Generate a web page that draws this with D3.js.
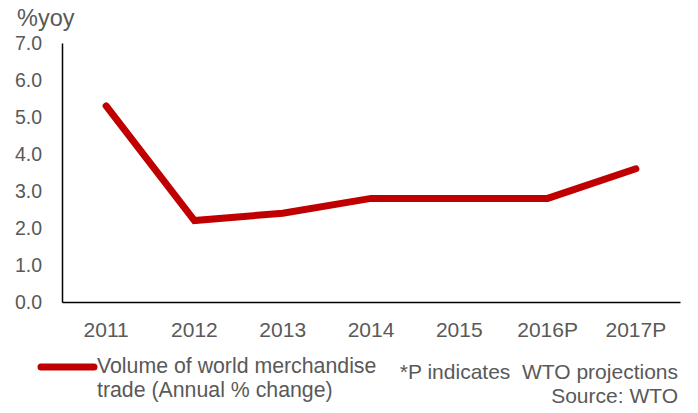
<!DOCTYPE html>
<html>
<head>
<meta charset="utf-8">
<script src="https://cdn.jsdelivr.net/npm/d3@7"></script>
<style>
  html, body { margin: 0; padding: 0; background: #fff; }
  svg text { font-family: "Liberation Sans", Arial, sans-serif; fill: #595959; }
</style>
</head>
<body>
<svg id="chart" width="698" height="413"></svg>
<script>
// World merchandise trade volume, annual % change
const categories = ["2011", "2012", "2013", "2014", "2015", "2016P", "2017P"];
const values = [5.3, 2.2, 2.4, 2.8, 2.8, 2.8, 3.6];
const yTicks = [0, 1, 2, 3, 4, 5, 6, 7];
const legendLines = ["Volume of world merchandise", "trade (Annual % change)"];
const noteLines = ["*P indicates  WTO projections", "Source: WTO"];

const svg = d3.select("#chart");
const W = 698, H = 413;
const margin = { left: 62, right: 18, top: 43, bottom: 111 };

const x = d3.scaleBand().domain(categories).range([margin.left, W - margin.right]);
const y = d3.scaleLinear().domain([0, 7]).range([H - margin.bottom, margin.top]);

// y axis
const yAxis = svg.append("g")
  .attr("transform", `translate(${margin.left},0)`)
  .call(d3.axisLeft(y).tickValues(yTicks).tickFormat(d3.format(".1f")).tickSize(0).tickPadding(20));
yAxis.select(".domain").attr("stroke", "#000").attr("stroke-width", 1.5);
yAxis.selectAll("text").attr("font-size", 19.5).attr("fill", "#595959");

// x axis
const xAxis = svg.append("g")
  .attr("transform", `translate(0,${y(0)})`)
  .call(d3.axisBottom(x).tickSize(0).tickPadding(20));
xAxis.select(".domain").attr("stroke", "#000").attr("stroke-width", 1.5);
xAxis.selectAll("text").attr("font-size", 21).attr("fill", "#595959");

// unit label
svg.append("text").attr("x", 17).attr("y", 26).attr("font-size", 23.5).text("%yoy");

// series line
const line = d3.line()
  .x((d, i) => x(categories[i]) + x.bandwidth() / 2)
  .y(d => y(d));
svg.append("path")
  .datum(values)
  .attr("d", line)
  .attr("fill", "none")
  .attr("stroke", "#C00000")
  .attr("stroke-width", 7)
  .attr("stroke-linecap", "round")
  .attr("stroke-linejoin", "miter");

// legend
svg.append("line")
  .attr("x1", 41).attr("x2", 94).attr("y1", 367).attr("y2", 367)
  .attr("stroke", "#C00000").attr("stroke-width", 7).attr("stroke-linecap", "round");
svg.append("g").selectAll("text").data(legendLines).join("text")
  .attr("x", 97).attr("y", (d, i) => 373 + i * 24)
  .attr("font-size", 21.3)
  .text(d => d);

// notes
svg.append("g").selectAll("text").data(noteLines).join("text")
  .attr("x", 678).attr("y", (d, i) => 379 + i * 24)
  .attr("text-anchor", "end")
  .attr("font-size", 21)
  .style("white-space", "pre")
  .text(d => d);
</script>
</body>
</html>
